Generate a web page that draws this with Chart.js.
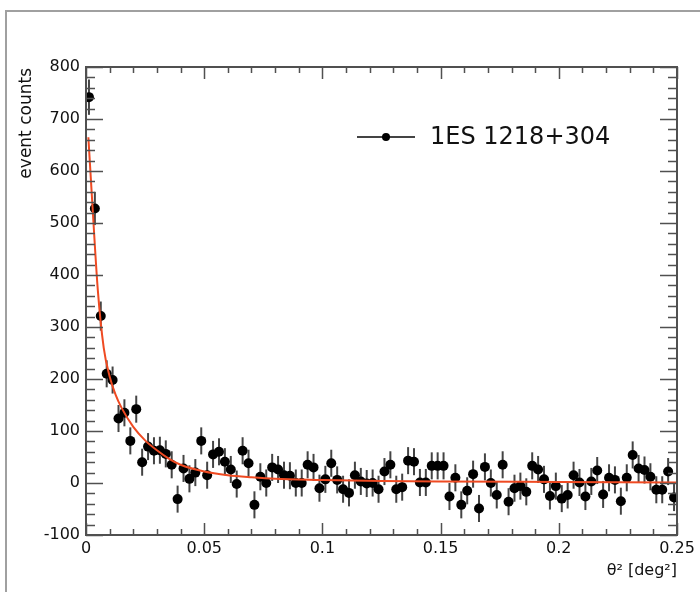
<!DOCTYPE html>
<html>
<head>
<meta charset="utf-8">
<script src="https://cdn.jsdelivr.net/npm/chart.js@4/dist/chart.umd.min.js"></script>
<style>
    html, body { margin: 0; padding: 0; background: #fff; }
    canvas { display: block; }
</style>
</head>
<body>
<canvas id="thetaChart" width="700" height="592"></canvas>
<script>
// histogram: 100 bins of width 0.0025 deg^2 from 0 to 0.25
var binWidth = 0.0025;
var counts = [
    742, 528, 321, 210, 198, 124, 135, 81, 142, 40,
    70, 62, 63, 56, 35, -31, 28, 8, 20, 81,
    15, 55, 60, 41, 26, -2, 62, 38, -42, 12,
    0, 30, 26, 15, 14, 0, 0, 35, 30, -10,
    7, 38, 6, -12, -19, 15, 3, -1, 0, -12,
    22, 35, -12, -8, 43, 41, 1, 1, 33, 33,
    33, -26, 10, -42, -15, 17, -49, 31, 0, -23,
    35, -36, -10, -6, -17, 33, 26, 7, -25, -6,
    -30, -23, 15, 1, -26, 3, 24, -22, 10, 6,
    -35, 10, 54, 28, 25, 12, -13, -13, 22, -28
];
var countErrors = [
    34, 32, 28, 26, 26, 26, 26, 26, 26, 26,
    26, 26, 26, 26, 26, 26, 26, 26, 26, 26,
    26, 26, 26, 26, 26, 26, 26, 26, 26, 26,
    26, 26, 26, 26, 26, 26, 26, 26, 26, 26,
    26, 26, 26, 26, 26, 26, 26, 26, 26, 26,
    26, 26, 26, 26, 26, 26, 26, 26, 26, 26,
    26, 26, 26, 26, 26, 26, 26, 26, 26, 26,
    26, 26, 26, 26, 26, 26, 26, 26, 26, 26,
    26, 26, 26, 26, 26, 26, 26, 26, 26, 26,
    26, 26, 26, 26, 26, 26, 26, 26, 26, 26
];

// fit curve
var fitX = [0.001, 0.0025, 0.005, 0.0075, 0.01, 0.0125, 0.015, 0.02, 0.025, 0.03,
    0.035, 0.04, 0.05, 0.06, 0.07, 0.08, 0.1, 0.125, 0.15, 0.2, 0.25];
var fitY = [665, 551, 371, 260, 205, 170, 145, 108, 82, 63,
    47, 35, 22, 15, 11, 8, 6, 4, 3, 2, 1];

var xTickVals = [0, 0.05, 0.1, 0.15, 0.2, 0.25];
var xTickLabels = ['0', '0.05', '0.1', '0.15', '0.2', '0.25'];
var yTickVals = [-100, 0, 100, 200, 300, 400, 500, 600, 700, 800];

var seriesName = '1ES 1218+304';
var xTitle = '\u03B8\u00B2 [deg\u00B2]';
var yTitle = 'event counts';

var points = counts.map(function (c, i) {
    return { x: (i + 0.5) * binWidth, y: c, err: countErrors[i] };
});
var fitPoints = fitX.map(function (x, i) {
    return { x: x, y: fitY[i] };
});

var frameColor = '#505050';
var textColor = '#111';

var rootStyle = {
    id: 'rootStyle',
    beforeDraw: function (chart) {
        var ctx = chart.ctx;
        ctx.save();
        ctx.strokeStyle = '#a0a0a0';
        ctx.lineWidth = 2;
        ctx.beginPath();
        ctx.moveTo(6, 592);
        ctx.lineTo(6, 11);
        ctx.lineTo(700, 11);
        ctx.stroke();
        ctx.restore();
    },
    beforeDatasetsDraw: function (chart) {
        var ctx = chart.ctx;
        var xs = chart.scales.x, ys = chart.scales.y;
        var area = chart.chartArea;
        ctx.save();
        ctx.beginPath();
        ctx.rect(area.left, area.top, area.right - area.left, area.bottom - area.top);
        ctx.clip();
        ctx.strokeStyle = '#444';
        ctx.lineWidth = 2;
        points.forEach(function (p) {
            var px = xs.getPixelForValue(p.x);
            ctx.beginPath();
            ctx.moveTo(px, ys.getPixelForValue(p.y - p.err));
            ctx.lineTo(px, ys.getPixelForValue(p.y + p.err));
            ctx.stroke();
        });
        ctx.restore();
    },
    afterDraw: function (chart) {
        var ctx = chart.ctx;
        var xs = chart.scales.x, ys = chart.scales.y;
        var a = chart.chartArea;
        var v, px, py, len;
        ctx.save();
        ctx.strokeStyle = frameColor;
        ctx.lineWidth = 1.5;
        // ticks on all four sides, pointing inward
        ctx.beginPath();
        for (v = 0; v <= 25; v++) {
            px = Math.round(xs.getPixelForValue(v / 100)) + 0.5;
            len = (v % 5 === 0) ? 12 : 6;
            ctx.moveTo(px, a.bottom); ctx.lineTo(px, a.bottom - len);
            ctx.moveTo(px, a.top); ctx.lineTo(px, a.top + len);
        }
        for (v = -100; v <= 800; v += 20) {
            py = Math.round(ys.getPixelForValue(v)) + 0.5;
            len = (v % 100 === 0) ? 17 : 9;
            ctx.moveTo(a.left, py); ctx.lineTo(a.left + len, py);
            ctx.moveTo(a.right, py); ctx.lineTo(a.right - len, py);
        }
        ctx.stroke();
        ctx.lineWidth = 2;
        ctx.strokeRect(a.left, a.top, a.right - a.left, a.bottom - a.top);

        // axis titles
        ctx.fillStyle = textColor;
        ctx.font = '16px "DejaVu Sans"';
        ctx.textAlign = 'right';
        ctx.textBaseline = 'middle';
        ctx.fillText(xTitle, a.right, 571);
        ctx.save();
        ctx.translate(27, 68);
        ctx.rotate(-Math.PI / 2);
        ctx.font = '17px "DejaVu Sans"';
        ctx.fillText(yTitle, 0, 0);
        ctx.restore();

        // legend
        ctx.strokeStyle = '#444';
        ctx.lineWidth = 2;
        ctx.beginPath();
        ctx.moveTo(357, 137);
        ctx.lineTo(415, 137);
        ctx.stroke();
        ctx.fillStyle = '#000';
        ctx.beginPath();
        ctx.arc(386, 137, 4, 0, Math.PI * 2);
        ctx.fill();
        ctx.fillStyle = textColor;
        ctx.font = '24px "DejaVu Sans"';
        ctx.textAlign = 'left';
        ctx.fillText(seriesName, 430, 138);
        ctx.restore();
    }
};

new Chart(document.getElementById('thetaChart'), {
    type: 'scatter',
    data: {
        datasets: [{
            label: 'fit',
            data: fitPoints,
            showLine: true,
            borderColor: '#ef4a22',
            borderWidth: 2,
            pointRadius: 0,
            cubicInterpolationMode: 'monotone',
            fill: false,
            clip: 0
        }, {
            label: seriesName,
            data: points,
            showLine: false,
            backgroundColor: '#000',
            borderColor: '#000',
            pointRadius: 5,
            pointBorderWidth: 0
        }]
    },
    options: {
        responsive: false,
        animation: false,
        layout: { padding: { left: 0, right: 23, top: 67, bottom: 0 } },
        plugins: { legend: { display: false }, tooltip: { enabled: false } },
        scales: {
            x: {
                type: 'linear',
                min: 0,
                max: 0.25,
                grid: { display: false, drawTicks: false },
                border: { display: false },
                afterFit: function (s) { s.height = 57; },
                afterBuildTicks: function (s) {
                    s.ticks = xTickVals.map(function (v) { return { value: v }; });
                },
                ticks: {
                    font: { family: 'DejaVu Sans', size: 16 },
                    color: textColor,
                    padding: 4,
                    maxRotation: 0,
                    autoSkip: false,
                    callback: function (v) { return xTickLabels[xTickVals.indexOf(v)]; }
                }
            },
            y: {
                type: 'linear',
                min: -100,
                max: 800,
                grid: { display: false, drawTicks: false },
                border: { display: false },
                afterFit: function (s) { s.width = 86; },
                afterBuildTicks: function (s) {
                    s.ticks = yTickVals.map(function (v) { return { value: v }; });
                },
                ticks: {
                    font: { family: 'DejaVu Sans', size: 16 },
                    color: textColor,
                    padding: 6,
                    autoSkip: false
                }
            }
        }
    },
    plugins: [rootStyle]
});
</script>
</body>
</html>
